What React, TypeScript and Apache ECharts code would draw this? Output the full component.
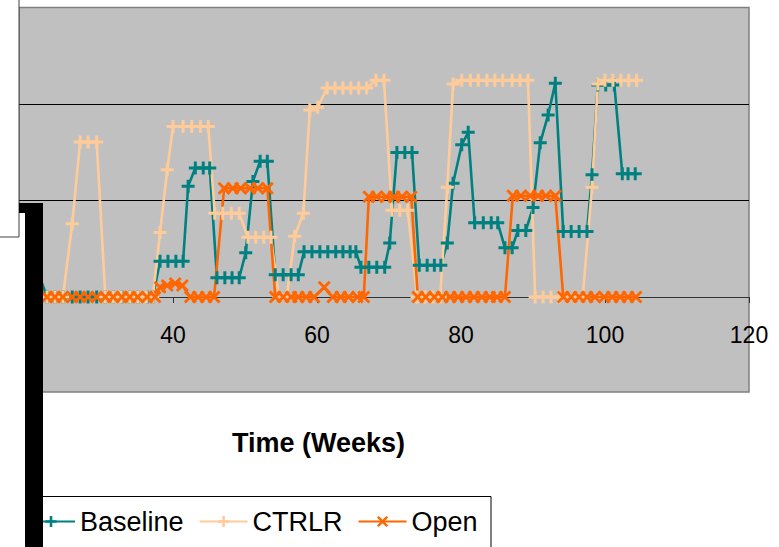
import React, { useEffect, useRef } from "react";
import * as echarts from "echarts";

const tickWeeks = [20, 40, 60, 80, 100, 120];
const seriesNames = ["Baseline", "CTRLR", "Open"];

const baselineWeeks = [20.8, 22.5, 23.6, 24.7, 26.0, 27.1, 28.2, 29.4, 30.6, 31.7, 32.9, 34.0, 35.1, 36.4, 37.2, 38.2, 39.3, 40.4, 41.4, 42.1, 43.1, 44.2, 45.1, 46.1, 47.2, 48.2, 49.2, 50.1, 51.1, 52.1, 53.1, 54.2, 55.3, 56.4, 57.4, 58.2, 59.3, 60.4, 61.5, 62.6, 63.6, 64.6, 65.4, 66.1, 67.2, 68.3, 69.4, 70.1, 71.1, 72.2, 73.2, 74.2, 75.3, 76.3, 77.2, 78.1, 78.9, 80.1, 81.0, 81.9, 83.1, 84.2, 85.1, 86.1, 87.1, 87.9, 89.0, 90.0, 91.0, 92.1, 93.1, 94.2, 95.3, 96.4, 97.5, 98.2, 99.0, 100.1, 101.3, 102.4, 103.2, 104.2];
const baselineValues = [0.35, 0, 0, 0, 0, 0, 0, 0, 0, 0, 0, 0, 0, 0, 0, 0.37, 0.37, 0.37, 0.37, 1.15, 1.34, 1.34, 1.34, 0.2, 0.2, 0.2, 0.2, 0.46, 1.2, 1.41, 1.41, 0.23, 0.23, 0.23, 0.23, 0.47, 0.47, 0.47, 0.47, 0.47, 0.47, 0.47, 0.47, 0.31, 0.31, 0.31, 0.31, 0.56, 1.5, 1.5, 1.5, 0.33, 0.33, 0.33, 0.33, 0.56, 1.18, 1.58, 1.71, 0.77, 0.77, 0.77, 0.77, 0.51, 0.51, 0.69, 0.69, 0.93, 1.6, 1.89, 2.22, 0.68, 0.68, 0.68, 0.68, 1.27, 2.2, 2.2, 2.2, 1.28, 1.28, 1.28];

const ctrlrWeeks = [20.8, 22.5, 23.6, 24.7, 26.0, 27.1, 28.2, 29.4, 30.6, 31.7, 32.8, 34.0, 35.1, 36.3, 37.2, 38.2, 39.2, 40.0, 41.4, 42.6, 43.8, 44.9, 45.8, 46.9, 48.1, 49.2, 50.4, 51.5, 52.6, 53.6, 54.7, 55.8, 56.9, 58.1, 59.0, 60.1, 61.4, 62.5, 63.6, 64.7, 65.8, 66.9, 68.2, 69.3, 70.4, 71.5, 72.6, 73.9, 75.0, 76.1, 77.1, 78.1, 78.9, 80.1, 81.3, 82.4, 83.6, 84.7, 85.8, 87.1, 88.2, 89.3, 90.3, 91.4, 92.5, 93.6, 94.7, 95.8, 96.9, 98.2, 99.0, 100.0, 101.1, 102.2, 103.3, 104.4];
const ctrlrValues = [0, 0, 0, 0, 0.76, 1.61, 1.61, 1.61, 0, 0, 0, 0, 0, 0, 0, 0.67, 1.32, 1.77, 1.77, 1.77, 1.77, 1.77, 0.87, 0.87, 0.87, 0.87, 0.62, 0.62, 0.62, 0.62, 0, 0, 0.63, 0.87, 1.94, 1.97, 2.17, 2.17, 2.17, 2.17, 2.17, 2.17, 2.25, 2.25, 0.9, 0.9, 0.9, 0, 0, 0, 0, 1.14, 2.21, 2.25, 2.25, 2.25, 2.25, 2.25, 2.25, 2.25, 2.25, 2.25, 0, 0, 0, 0, 0, 0, 0, 1.14, 2.21, 2.25, 2.25, 2.25, 2.25, 2.25];

const openWeeks = [20.8, 22.5, 23.6, 24.7, 26.0, 27.1, 28.2, 29.4, 30.6, 31.7, 32.9, 34.0, 35.1, 36.4, 37.5, 38.2, 39.2, 40.3, 41.3, 42.4, 43.5, 44.6, 45.7, 47.1, 48.3, 49.4, 50.7, 51.8, 53.1, 54.2, 55.3, 56.4, 57.4, 58.5, 59.6, 61.0, 62.2, 63.3, 64.4, 65.6, 66.5, 67.2, 68.3, 69.6, 70.7, 71.8, 73.1, 74.0, 75.1, 76.3, 77.4, 78.5, 79.6, 80.7, 81.8, 82.9, 84.0, 85.0, 86.1, 87.2, 88.3, 89.6, 90.7, 91.8, 93.1, 94.2, 95.3, 96.4, 97.5, 98.6, 99.9, 101.0, 102.1, 103.2, 104.3];
const openValues = [0, 0, 0, 0, 0, 0, 0, 0, 0, 0, 0, 0, 0, 0, 0, 0.1, 0.12, 0.14, 0.12, 0, 0, 0, 0, 1.13, 1.13, 1.13, 1.13, 1.13, 1.13, 0, 0, 0, 0, 0, 0, 0.1, 0, 0, 0, 0, 0, 1.04, 1.04, 1.04, 1.04, 1.04, 1.04, 0, 0, 0, 0, 0, 0, 0, 0, 0, 0, 0, 0, 1.05, 1.05, 1.05, 1.05, 1.05, 1.05, 0, 0, 0, 0, 0, 0, 0, 0, 0, 0];

const FONT = '"Liberation Sans", Arial, sans-serif';
const PLUS = "path://M5,0h3v13h-3z M0,5h13v3h-13z";
const CROSS = "path://M0,2L2,0L6.5,4.5L11,0L13,2L8.5,6.5L13,11L11,13L6.5,8.5L2,13L0,11L4.5,6.5Z";

function zip(w: number[], v: number[]) {
  return w.map((x, i) => [x, v[i]]);
}

export default function App() {
  const ref = useRef<HTMLDivElement>(null);
  useEffect(() => {
    const chart = echarts.init(ref.current!, null, { renderer: "svg" });
    const mk = (name: string, w: number[], v: number[], color: string, symbol: string, size: number | number[]) => ({
      name,
      type: "line",
      data: zip(w, v),
      symbol,
      symbolSize: size,
      showAllSymbol: true,
      lineStyle: { color, width: 2.6 },
      itemStyle: { color },
      emphasis: { disabled: true },
    });
    chart.setOption({
      animation: false,
      backgroundColor: "#ffffff",
      grid: { left: 19, right: 30, top: 8, bottom: 250 },
      xAxis: {
        type: "value",
        min: 18.61,
        max: 120,
        axisLine: { show: true, onZero: false, lineStyle: { color: "#333", width: 1 } },
        axisTick: { show: true, length: 6, customValues: tickWeeks, lineStyle: { color: "#333" } },
        axisLabel: { customValues: tickWeeks, fontSize: 23, color: "#000", fontFamily: FONT, margin: 26 },
        splitLine: { show: false },
      },
      yAxis: {
        type: "value",
        min: 0,
        max: 3,
        interval: 1,
        axisLine: { show: false },
        axisTick: { show: false },
        axisLabel: { show: false },
        splitLine: { show: true, showMaxLine: false, lineStyle: { color: "#000", width: 1 } },
      },
      legend: {
        data: seriesNames,
        left: 26,
        top: 508,
        padding: 0,
        itemGap: 15,
        itemWidth: 48,
        itemHeight: 14,
        textStyle: { fontSize: 27, color: "#000", fontFamily: FONT },
      },
      graphic: [
        { type: "rect", z: -5, shape: { x: 19, y: 7.5, width: 730, height: 384.5 }, style: { fill: "#C0C0C0", stroke: "#808080", lineWidth: 1.5 } },
        { type: "rect", z: 3, shape: { x: 30, y: 496.5, width: 461, height: 80 }, style: { fill: "none", stroke: "#000", lineWidth: 1 } },
        { type: "text", z: 3, x: 318.5, y: 443, style: { text: "Time (Weeks)", fontSize: 27, fontWeight: "bold", fontFamily: FONT, fill: "#000", align: "center", verticalAlign: "middle" } },
        { type: "rect", z: 100, shape: { x: 0, y: 213, width: 25, height: 334 }, style: { fill: "#ffffff" } },
        { type: "rect", z: 100, shape: { x: -1, y: -1, width: 20, height: 238 }, style: { fill: "#ffffff", stroke: "#404040", lineWidth: 1 } },
        { type: "rect", z: 101, shape: { x: 19, y: 203, width: 24, height: 10 }, style: { fill: "#000" } },
        { type: "rect", z: 101, shape: { x: 25, y: 203, width: 18, height: 344 }, style: { fill: "#000" } },
      ],
      series: [
        mk("Baseline", baselineWeeks, baselineValues, "#008080", PLUS, 13),
        mk("CTRLR", ctrlrWeeks, ctrlrValues, "#FFCC99", PLUS, 13),
        mk("Open", openWeeks, openValues, "#FF6600", CROSS, 13),
      ],
    });
    return () => chart.dispose();
  }, []);
  return <div ref={ref} style={{ position: "absolute", left: 0, top: 0, width: 779, height: 547 }} />;
}
